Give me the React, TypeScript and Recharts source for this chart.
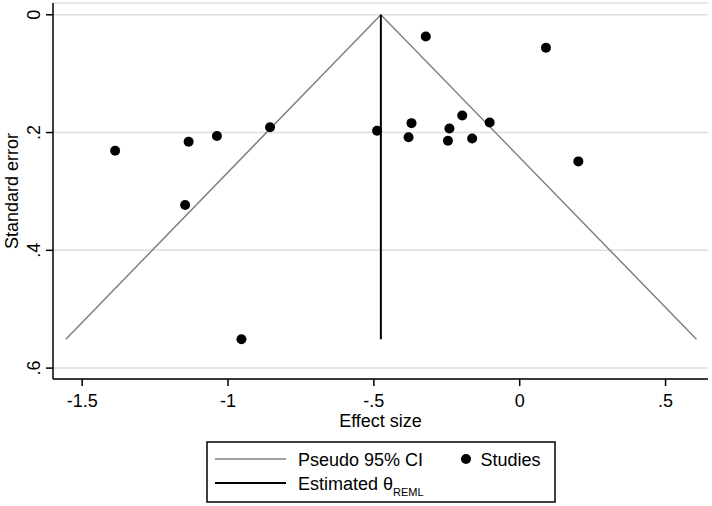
import {
  ScatterChart,
  Scatter,
  XAxis,
  YAxis,
  CartesianGrid,
} from "recharts";

// studies
const studyEffect = [
  -1.387, -1.135, -1.038, -0.856, -1.147, -0.954, -0.489, -0.371, -0.381,
  -0.322, -0.241, -0.246, -0.197, -0.163, -0.103, 0.09, 0.201,
];
const studySE = [
  0.231, 0.2155, 0.206, 0.191, 0.323, 0.551, 0.197, 0.184, 0.208, 0.037,
  0.193, 0.214, 0.171, 0.21, 0.183, 0.056, 0.249,
];

// pseudo 95% CI funnel (left end, apex, right end)
const funnelEffect = [-1.556, -0.476, 0.606];
const funnelSE = [0.551, 0, 0.551];

// estimated theta (REML)
const thetaEffect = [-0.476, -0.476];
const thetaSE = [0, 0.551];

const xTicks = [-1.5, -1, -0.5, 0, 0.5];
const yTicks = [0, 0.2, 0.4, 0.6];

const FONT = '"Liberation Sans", Arial, Helvetica, sans-serif';

const studies = studyEffect.map((x, i) => ({ x, y: studySE[i] }));
const funnel = funnelEffect.map((x, i) => ({ x, y: funnelSE[i] }));
const theta = thetaEffect.map((x, i) => ({ x, y: thetaSE[i] }));

const fmt = (v: number) => {
  if (v === 0) return "0";
  const s = String(v);
  return s.replace(/^(-?)0\./, "$1.");
};

const NoShape = () => <g />;

const Dot = (props: any) => (
  <circle cx={props.cx} cy={props.cy} r={5} fill="#000" />
);

const XTick = (props: any) => (
  <text
    x={props.x}
    y={props.y}
    dy={20}
    textAnchor="middle"
    fontSize={18}
    fontFamily={FONT}
    fill="#000"
  >
    {fmt(props.payload.value)}
  </text>
);

const YTick = (props: any) => (
  <text
    x={props.x}
    y={props.y}
    textAnchor="middle"
    transform={`rotate(-90, ${props.x}, ${props.y})`}
    fontSize={18}
    fontFamily={FONT}
    fill="#000"
  >
    {fmt(props.payload.value)}
  </text>
);

const Legend = () => (
  <svg
    width={350}
    height={62}
    style={{ position: "absolute", left: 206, top: 441 }}
    fontFamily={FONT}
  >
    <rect x={1} y={1} width={348} height={60} fill="#fff" stroke="#000" strokeWidth={1.5} />
    <line x1={9} x2={80} y1={18} y2={18} stroke="#808080" strokeWidth={1.5} />
    <text x={92} y={24.5} fontSize={18} fill="#000">Pseudo 95% CI</text>
    <circle cx={260} cy={18} r={5} fill="#000" />
    <text x={274.5} y={24.5} fontSize={18} fill="#000">Studies</text>
    <line x1={9} x2={80} y1={42} y2={42} stroke="#000" strokeWidth={2} />
    <text x={92} y={49} fontSize={18} fill="#000">
      Estimated θ
      <tspan fontSize={11} dy={6}>REML</tspan>
    </text>
  </svg>
);

export default function App() {
  return (
    <div style={{ position: "absolute", left: 0, top: 0, width: 712, height: 506, background: "#fff" }}>
      <ScatterChart
        width={712}
        height={506}
        margin={{ top: 3, right: 4, bottom: 67, left: 0 }}
      >
        <CartesianGrid
          vertical={false}
          stroke="#dedede"
          strokeWidth={1.5}
        />
        <XAxis
          type="number"
          dataKey="x"
          domain={[-1.6, 0.6455]}
          ticks={xTicks}
          allowDataOverflow
          height={60}
          tickSize={7}
          tickMargin={1}
          axisLine={{ stroke: "#000", strokeWidth: 1.5 }}
          tickLine={{ stroke: "#000", strokeWidth: 1.5 }}
          tick={XTick}
          label={({ viewBox }: any) => (
            <text
              x={viewBox.x + viewBox.width / 2}
              y={viewBox.y + 48}
              textAnchor="middle"
              fontSize={18}
              fontFamily={FONT}
              fill="#000"
            >
              Effect size
            </text>
          )}
        />
        <YAxis
          type="number"
          dataKey="y"
          reversed
          domain={[-0.02, 0.6185]}
          ticks={yTicks}
          allowDataOverflow
          width={53}
          tickSize={7}
          tickMargin={6}
          axisLine={{ stroke: "#000", strokeWidth: 1.5 }}
          tickLine={{ stroke: "#000", strokeWidth: 1.5 }}
          tick={YTick}
          label={({ viewBox }: any) => {
            const cy = viewBox.y + viewBox.height / 2;
            return (
              <text
                x={18}
                y={cy}
                textAnchor="middle"
                transform={`rotate(-90, 18, ${cy})`}
                fontSize={18}
                fontFamily={FONT}
                fill="#000"
              >
                Standard error
              </text>
            );
          }}
        />
        <Scatter
          data={funnel}
          line={{ stroke: "#808080", strokeWidth: 1.5 }}
          shape={NoShape}
          isAnimationActive={false}
        />
        <Scatter
          data={theta}
          line={{ stroke: "#000", strokeWidth: 2 }}
          shape={NoShape}
          isAnimationActive={false}
        />
        <Scatter
          data={studies}
          fill="#000"
          shape={Dot}
          isAnimationActive={false}
        />
      </ScatterChart>
      <Legend />
    </div>
  );
}
